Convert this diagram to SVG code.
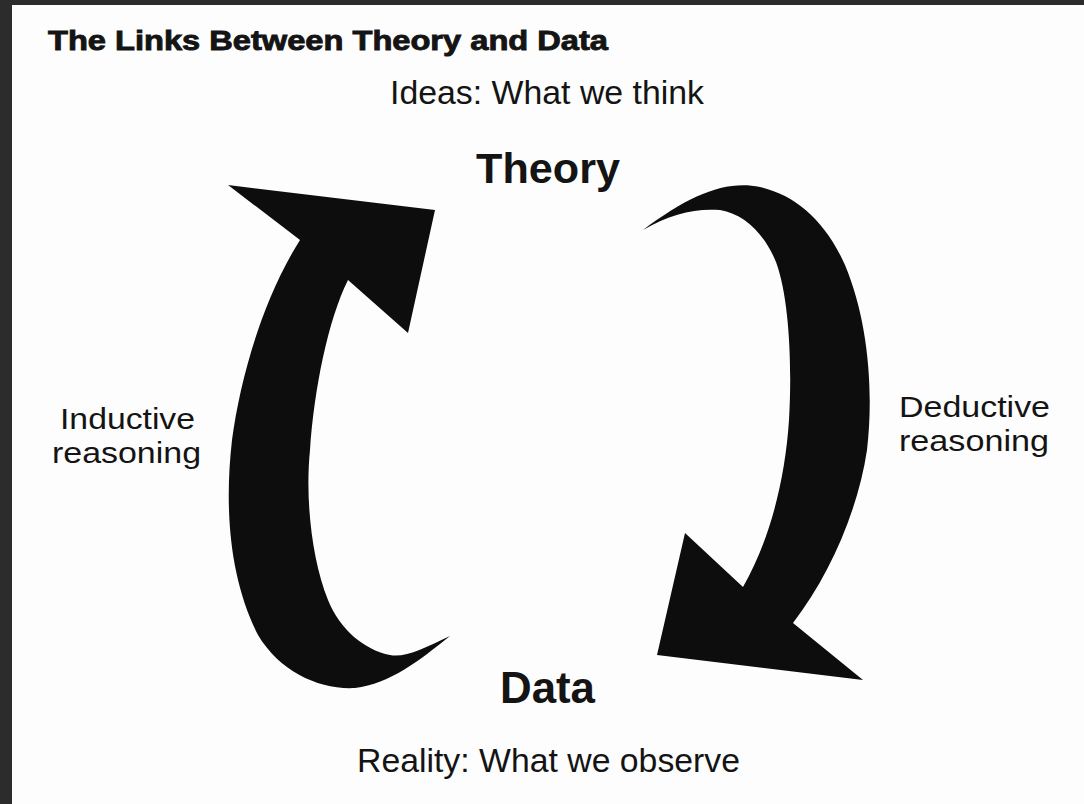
<svg xmlns="http://www.w3.org/2000/svg" width="1084" height="804" viewBox="0 0 1084 804">
<style>
.t{font-family:"Liberation Sans",Arial,sans-serif;fill:#141414;}
.b{font-weight:bold;}
.title{font-family:"Liberation Sans",Arial,sans-serif;font-weight:bold;fill:#141414;stroke:#141414;stroke-width:0.9;}
.arrow{fill:#0d0d0d;stroke:none;}
</style>
<rect x="0" y="0" width="1084" height="804" fill="#2c2c2c"/>
<rect x="12" y="5" width="1072" height="799" fill="#fdfdfd"/>
<text class="title" x="48" y="50" font-size="28" textLength="560" lengthAdjust="spacingAndGlyphs">The Links Between Theory and Data</text>
<g id="theory">
<text class="t" x="390" y="104" font-size="33" textLength="314" lengthAdjust="spacingAndGlyphs">Ideas: What we think</text>
<text class="t b" x="476" y="183" font-size="43" textLength="144" lengthAdjust="spacingAndGlyphs">Theory</text>
</g>
<g id="data">
<text class="t b" x="500" y="703" font-size="44" textLength="95" lengthAdjust="spacingAndGlyphs">Data</text>
<text class="t" x="357" y="772" font-size="33" textLength="383" lengthAdjust="spacingAndGlyphs">Reality: What we observe</text>
</g>
<g id="inductive">
<text class="t" x="60" y="429" font-size="30" textLength="135" lengthAdjust="spacingAndGlyphs">Inductive</text>
<text class="t" x="52" y="463" font-size="30" textLength="149" lengthAdjust="spacingAndGlyphs">reasoning</text>
</g>
<g id="deductive">
<text class="t" x="899" y="417" font-size="30" textLength="151" lengthAdjust="spacingAndGlyphs">Deductive</text>
<text class="t" x="899" y="451" font-size="30" textLength="150" lengthAdjust="spacingAndGlyphs">reasoning</text>
</g>
<g id="connectors">
<path class="arrow" d="M 450 636 C 425 648, 405 658, 390 655 C 365 650, 340 630, 328 600 C 312 560, 305 500, 310 450 C 314 390, 328 320, 348 280 L 408 333 L 435 210 L 228 185 L 300 240 C 262 300, 240 380, 232 440 C 224 510, 230 580, 258 635 C 280 672, 320 690, 355 688 C 390 684, 420 660, 450 636 Z"/>
<path class="arrow" d="M 643 230 C 670 214, 695 208, 720 210 C 745 214, 765 235, 776 262 C 790 300, 792 370, 789 420 C 785 480, 770 540, 743 587 L 685 533 L 657 655 L 863 680 L 793 623 C 830 575, 858 510, 867 450 C 874 390, 868 320, 845 265 C 825 220, 795 195, 760 187 C 725 180, 690 195, 643 230 Z"/>
</g>
</svg>
